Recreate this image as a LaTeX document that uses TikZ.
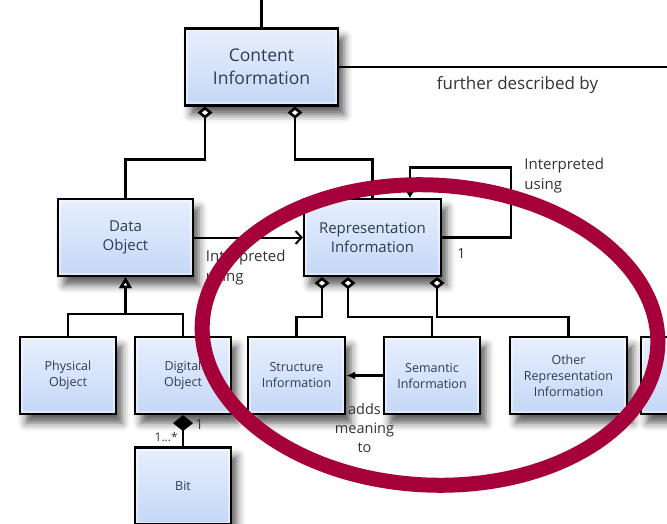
\documentclass[tikz,border=0pt]{standalone}
\usepackage{fontspec}
\setmainfont{Open Sans}
\usetikzlibrary{arrows.meta}
\usetikzlibrary{shadows.blur}
\definecolor{boxtop}{HTML}{E8EFFD}
\definecolor{boxbot}{HTML}{C4D7F7}
\definecolor{boxtext}{HTML}{2F3B52}
\definecolor{lbltext}{HTML}{333333}
\definecolor{ringred}{HTML}{A5003A}

\begin{document}
\begin{tikzpicture}[x=1pt, y=-1pt,
		box/.style={draw, line width=2.2pt, top color=boxtop, bottom color=boxbot, text=boxtext, align=center, minimum height=77pt, inner sep=2pt, blur shadow={shadow xshift=6pt, shadow yshift=-9pt, shadow blur radius=8pt, shadow opacity=65},
			path picture={\draw[line width=6pt, white, opacity=0.45] (path picture bounding box.south west) rectangle (path picture bounding box.north east);}},
		small/.style={font=\fontsize{12.5}{16}\selectfont},
		lbl/.style={text=lbltext, align=left, inner sep=0pt},
		conn/.style={line width=2.6pt},
		aggr/.style={conn, {Diamond[open, fill=white, length=12pt, width=15pt]}-},
		comp/.style={conn, {Diamond[length=16pt, width=20pt]}-},
		gen/.style={conn, -{Triangle[open, fill=white, length=11pt, width=12pt]}},
		ring/.style={draw=ringred, line width=15pt}
	]
		\useasboundingbox (0,0) rectangle (667,524);
		\coordinate (topend) at (261.5,0);
		\coordinate (farright) at (667,67);
		\node[box, minimum width=153pt, font=\fontsize{17.5}{23}\selectfont] (CI) at (261.5,67) {Content\\Information};
		\node[box, minimum width=135pt, font=\fontsize{15}{19}\selectfont] (DO) at (125.5,237.5) {Data\\Object};
		\node[box, minimum width=137pt, font=\fontsize{15}{19}\selectfont] (RI) at (372.5,237.5) {Representation\\Information};
		\node[box, small, minimum width=96pt] (PO) at (68,375.5) {Physical\\Object};
		\node[box, small, minimum width=96pt] (DG) at (183,375.5) {Digital\\Object};
		\node[box, small, minimum width=97pt] (SI) at (296.5,375.5) {Structure\\Information};
		\node[box, small, minimum width=96pt] (SE) at (432,375.5) {Semantic\\Information};
		\node[box, small, minimum width=117pt] (OR) at (568.5,375.5) {Other\\Representation\\Information};
		\node[box, small, minimum width=98pt] (RX) at (690,375.5) {};
		\node[box, small, minimum width=96pt] (BIT) at (183,486) {Bit};

		\draw[conn] (CI.north) -- (topend);
		\draw[conn] (CI.east) -- (farright) node[lbl, pos=0.544, yshift=-18pt, font=\fontsize{17}{20}\selectfont] {further described by};
		\draw[aggr] ([xshift=-56.5pt]CI.south) -- ++(0,53) -| (DO.north);
		\draw[aggr] ([xshift=33.5pt]CI.south) -- ++(0,53) -| (RI.north);
		\draw[line width=2pt, -{Straight Barb[length=6pt, width=13pt]}] (DO.east) -- (RI.west) node[lbl, pos=0.1, anchor=north west, yshift=-12pt, font=\fontsize{15}{20}\selectfont] {Interpreted\\using};
		\draw[conn, -{Latex[length=6pt, width=8pt]}] (RI.east) node[lbl, anchor=north west, xshift=14pt, yshift=-10pt, font=\fontsize{14}{16}\selectfont] {1} -| ++(69,-70) node[lbl, anchor=north west, xshift=12pt, yshift=11pt, font=\fontsize{15}{20}\selectfont] {Interpreted\\using} -| ([xshift=37.5pt]RI.north);

		\draw[gen] (PO.north) -- ++(0,-22) -| (DO.south);
		\draw[gen] (DG.north) -- ++(0,-22) -| (DO.south);

		\draw[aggr] ([xshift=-50.5pt]RI.south) -- ++(0,40) -| (SI.north);
		\draw[aggr] ([xshift=-24.5pt]RI.south) -- ++(0,40) -| (SE.north);
		\draw[aggr] ([xshift=64.5pt]RI.south) -- ++(0,40) -| (OR.north);
		\draw[conn, -{Latex[length=9pt, width=8pt]}] (SE.west) -- (SI.east) node[lbl, midway, anchor=north, align=center, yshift=-27pt, font=\fontsize{14.5}{19}\selectfont] {adds\\meaning\\to};

		\draw[comp] (DG.south) -- (BIT.north) node[lbl, pos=0, anchor=west, xshift=11pt, yshift=-9pt, font=\fontsize{14}{16}\selectfont] {1} node[lbl, pos=1, anchor=south east, xshift=-4pt, yshift=3pt, font=\fontsize{12}{14}\selectfont] {1...*};

		\draw[ring, rotate around={-3:(430,335)}] (430,335) ellipse [x radius=228, y radius=150];
	\end{tikzpicture}
\end{document}
